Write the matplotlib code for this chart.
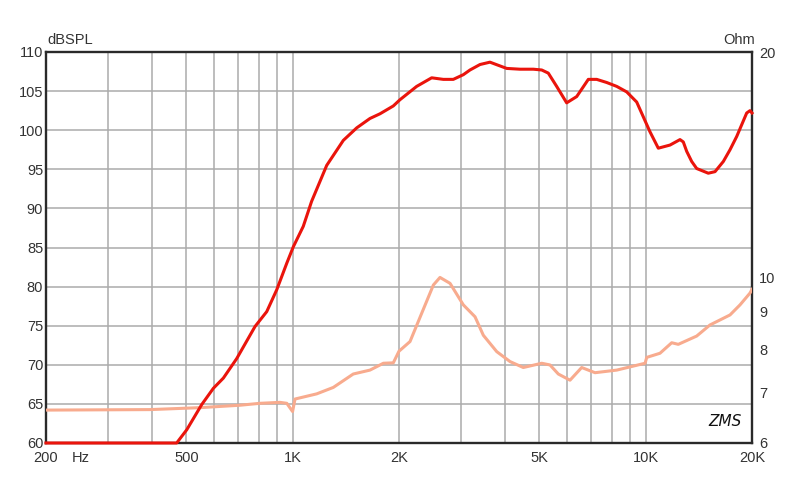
import matplotlib
matplotlib.use("Agg")
import matplotlib.pyplot as plt
from matplotlib.ticker import FixedLocator, NullLocator

plt.rcParams['font.family'] = ['Liberation Sans', 'DejaVu Sans']

# === Datos ===
spl_freq = [200, 469, 501, 552, 596, 636, 694, 782, 844, 901, 962, 1004, 1071,
            1131, 1248, 1391, 1518, 1655, 1767, 1927, 2013, 2244, 2475, 2670,
            2850, 3043, 3178, 3393, 3620, 3822, 4038, 4404, 4804, 5074, 5296,
            5594, 5970, 6374, 6876, 7262, 7752, 8277, 8831, 9428, 10280, 10854,
            11716, 12505, 12776, 13062, 13496, 13942, 15038, 15714, 16589, 17328,
            18102, 18701, 19320, 19740, 20000]
spl_db = [60, 60, 61.7, 64.9, 67.0, 68.3, 70.8, 74.9, 76.8, 79.6, 83.0, 85.1, 87.7,
          90.9, 95.5, 98.7, 100.3, 101.5, 102.1, 103.1, 103.9, 105.6, 106.7, 106.5,
          106.5, 107.1, 107.7, 108.4, 108.7, 108.3, 107.9, 107.8, 107.8, 107.7, 107.3,
          105.6, 103.5, 104.3, 106.5, 106.5, 106.1, 105.6, 104.9, 103.6, 99.8, 97.7,
          98.1, 98.8, 98.5, 97.3, 96.0, 95.1, 94.5, 94.7, 96.0, 97.5,
          99.2, 100.7, 102.2, 102.5, 102.2]

imp_freq = [200, 394, 546, 709, 808, 920, 962, 999, 1015, 1169, 1303, 1484, 1655,
            1806, 1927, 2000, 2149, 2320, 2503, 2613, 2790, 3043, 3284, 3467, 3783,
            4126, 4499, 5074, 5355, 5654, 6102, 6585, 7184, 8277, 9956, 10066, 10975,
            11846, 12366, 13942, 15206, 17328, 18494, 19740, 20000]
imp_ohm = [6.64, 6.65, 6.69, 6.74, 6.78, 6.80, 6.78, 6.61, 6.87, 6.98, 7.12, 7.42, 7.51,
           7.67, 7.68, 7.96, 8.20, 8.95, 9.76, 9.99, 9.81, 9.18, 8.85, 8.36, 7.95,
           7.71, 7.57, 7.67, 7.63, 7.42, 7.28, 7.57, 7.45, 7.51, 7.67, 7.81, 7.91,
           8.17, 8.13, 8.34, 8.63, 8.90, 9.18, 9.52, 9.63]

x_ticks = [200, 500, 1000, 2000, 5000, 10000, 20000]
x_labels = ["200", "500", "1K", "2K", "5K", "10K", "20K"]
x_grid = [300, 400, 500, 600, 700, 800, 900, 1000, 2000, 3000, 4000, 5000,
          6000, 7000, 8000, 9000, 10000]
db_ticks = [60, 65, 70, 75, 80, 85, 90, 95, 100, 105, 110]
ohm_ticks = [6, 7, 8, 9, 10, 20]

TXT = '#333333'
GRID = '#ababab'

fig = plt.figure(figsize=(8, 4.84), dpi=100)
rect = [46/800, 41/484, 706/800, 391/484]

# eje base: cuadrícula y marco
ax = fig.add_axes(rect)
ax.set_xscale('log')
ax.set_xlim(200, 20000)
ax.set_ylim(60, 110)
ax.xaxis.set_major_locator(FixedLocator(x_ticks))
ax.xaxis.set_minor_locator(NullLocator())
ax.set_xticklabels(x_labels)
ax.set_yticks(db_ticks)
ax.tick_params(length=0, labelsize=10.5, labelcolor=TXT)
ax.tick_params(axis='x', pad=6)
ax.tick_params(axis='y', pad=2)
for xv in x_grid:
    ax.axvline(xv, color=GRID, lw=1.1, zorder=0)
for yv in db_ticks:
    ax.axhline(yv, color=GRID, lw=1.1, zorder=0)
for s in ax.spines.values():
    s.set_color('#2a2a2a')
    s.set_linewidth(1.7)

# impedancia (eje derecho logarítmico)
ax2 = ax.twinx()
ax2.set_yscale('log')
ax2.set_ylim(6, 20)
ax2.yaxis.set_major_locator(FixedLocator(ohm_ticks))
ax2.yaxis.set_minor_locator(NullLocator())
ax2.set_yticklabels([str(v) for v in ohm_ticks])
ax2.tick_params(length=0, labelsize=10.5, labelcolor=TXT, pad=5)
for s in ax2.spines.values():
    s.set_visible(False)
ax2.plot(imp_freq, imp_ohm, color='#f8ab8e', lw=2.2, solid_joinstyle='round')

# respuesta SPL encima
ax3 = ax.twinx()
ax3.set_ylim(60, 110)
ax3.set_yticks([])
for s in ax3.spines.values():
    s.set_visible(False)
ax3.plot(spl_freq, spl_db, color='#ea140c', lw=2.2, clip_on=False,
         solid_joinstyle='round')

ax.text(0.002, 1.012, "dBSPL", transform=ax.transAxes, ha='left', va='bottom',
        fontsize=10.5, color=TXT)
ax.text(1.004, 1.012, "Ohm", transform=ax.transAxes, ha='right', va='bottom',
        fontsize=10.5, color=TXT)
fig.text(72/800, 1 - 451/484, "Hz", ha='left', va='top', fontsize=10.5, color=TXT)
ax.text(0.985, 0.035, "ZMS", transform=ax.transAxes, ha='right', va='bottom',
        fontsize=11, color='#111111', fontstyle='italic', family='DejaVu Sans')

fig.savefig("out.png", dpi=100)
